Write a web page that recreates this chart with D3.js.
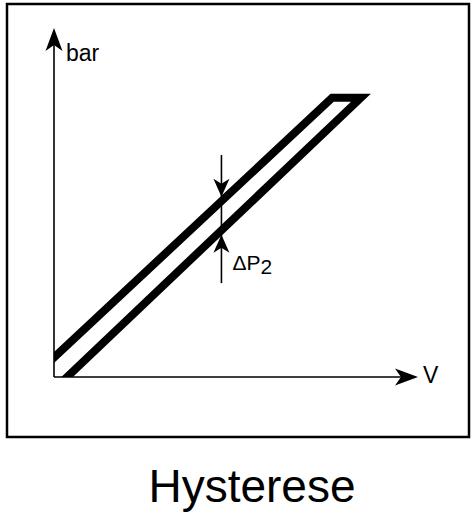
<!DOCTYPE html>
<html><head><meta charset="utf-8">
<script src="https://cdn.jsdelivr.net/npm/d3@7"></script>
<style>body{margin:0;background:#fff}svg{display:block}text{font-family:"Liberation Sans",Arial,Helvetica,sans-serif;fill:#000}</style>
</head><body>
<script>
// Schematic hysteresis loop (data units: V on x, bar on y, 0..100)
const loopV   = [0, 76.4, 84.3, 3.6];
const loopBar = [5.6, 80, 80, 0];
const markerV = 46;               // position of the ΔP2 marker
const markerRange = [63.6, 26.9]; // extent of marker line (bar)
const axisLabels = {x: "V", y: "bar"};
const title = "Hysterese";

const W = 474, H = 522, SW = 8;
const svg = d3.select("body").append("svg").attr("width", W).attr("height", H);

// frame
svg.append("rect").attr("x", 7).attr("y", 4).attr("width", 462).attr("height", 433)
  .attr("fill", "none").attr("stroke", "#000").attr("stroke-width", 2.5);

const x = d3.scaleLinear().domain([0, 100]).range([54, 418]);
const y = d3.scaleLinear().domain([0, 100]).range([377, 28]);

function arrowHead(tx, ty, ang, len, half, notch) {
  const c = Math.cos(ang), s = Math.sin(ang);
  const bx = tx - c * len, by = ty - s * len;
  const nx = tx - c * (len - notch), ny = ty - s * (len - notch);
  const p = [[tx, ty], [bx - s * half, by + c * half], [nx, ny], [bx + s * half, by - c * half]];
  svg.append("path").attr("d", "M" + p.map(d => d.join(",")).join("L") + "Z").attr("fill", "#000");
}

// axes
svg.append("line").attr("x1", x(0)).attr("y1", y(0)).attr("x2", x(0)).attr("y2", y(100) + 10)
  .attr("stroke", "#000").attr("stroke-width", 1.6);
svg.append("line").attr("x1", x(0)).attr("y1", y(0)).attr("x2", x(100) - 10).attr("y2", y(0))
  .attr("stroke", "#000").attr("stroke-width", 1.6);
arrowHead(x(0), y(100), -Math.PI / 2, 23, 8.5, 6);
arrowHead(x(100), y(0), 0, 23, 8.5, 6);

svg.append("text").attr("x", x(0) + 12).attr("y", 61).attr("font-size", 23).text(axisLabels.y);
svg.append("text").attr("x", x(100) + 5).attr("y", y(0) + 6).attr("font-size", 23).text(axisLabels.x);

// loop (ends extended and clipped at the axes)
const pts = loopV.map((v, i) => [x(v), y(loopBar[i])]);
function extend(a, b, d) { const dx = a[0] - b[0], dy = a[1] - b[1], L = Math.hypot(dx, dy); return [a[0] + dx / L * d, a[1] + dy / L * d]; }
const ext = [extend(pts[0], pts[1], 12), pts[1], pts[2], extend(pts[3], pts[2], 12)];
svg.append("clipPath").attr("id", "clip").append("rect")
  .attr("x", x(0)).attr("y", 0).attr("width", W).attr("height", y(0));
svg.append("path").attr("d", d3.line()(ext)).attr("fill", "none").attr("stroke", "#000")
  .attr("stroke-width", SW).attr("stroke-linejoin", "miter").attr("stroke-miterlimit", 10)
  .attr("clip-path", "url(#clip)");

// ΔP2 marker: arrow tips touch the outer edges of the two branches
const mx = x(markerV);
function yAt(a, b, px) { return a[1] + (b[1] - a[1]) * (px - a[0]) / (b[0] - a[0]); }
function halfV(a, b) { const ang = Math.atan2(Math.abs(b[1] - a[1]), Math.abs(b[0] - a[0])); return SW / 2 / Math.cos(ang); }
const upTipY = yAt(pts[0], pts[1], mx) - halfV(pts[0], pts[1]);
const loTipY = yAt(pts[2], pts[3], mx) + halfV(pts[2], pts[3]);
svg.append("line").attr("x1", mx).attr("x2", mx).attr("y1", y(markerRange[0])).attr("y2", y(markerRange[1]))
  .attr("stroke", "#000").attr("stroke-width", 1.6);
arrowHead(mx, upTipY + 1, Math.PI / 2, 18, 8, 5);
arrowHead(mx, loTipY - 1, -Math.PI / 2, 18, 8, 5);
const t = svg.append("text").attr("x", mx + 11).attr("y", 270).attr("font-size", 21);
t.append("tspan").text("ΔP");
t.append("tspan").attr("dy", 4).text("2");

svg.append("text").attr("x", 252).attr("y", 502).attr("font-size", 46).attr("text-anchor", "middle").text(title);
</script>
</body></html>
